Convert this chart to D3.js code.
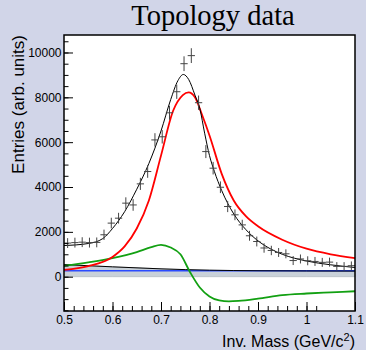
<!DOCTYPE html>
<html>
<head>
<meta charset="utf-8">
<script src="https://cdn.jsdelivr.net/npm/d3@7"></script>
<style>
  html, body { margin: 0; padding: 0; background: #d1d5e8; }
  svg { display: block; }
  .tick text { font-family: "Liberation Sans", Arial, sans-serif; font-size: 12px; fill: #000; }
</style>
</head>
<body>
<script>
// measured data (bin centres, width 0.015)
const binCenters = [0.5075, 0.5225, 0.5375, 0.5525, 0.5675, 0.5825, 0.5975, 0.6125, 0.6275, 0.6425,
                    0.6575, 0.6725, 0.6875, 0.7025, 0.7175, 0.7325, 0.7475, 0.7625, 0.7775, 0.7925,
                    0.8075, 0.8225, 0.8375, 0.8525, 0.8675, 0.8825, 0.8975, 0.9125, 0.9275, 0.9425,
                    0.9575, 0.9725, 0.9875, 1.0025, 1.0175, 1.0325, 1.0475, 1.0625, 1.0775, 1.0925];
const entries = [1500, 1520, 1540, 1520, 1530, 1870, 2390, 2610, 3280, 3200,
                 4140, 4690, 6100, 6240, 7310, 8250, 9500, 9860, 7760, 5580,
                 4840, 3990, 3130, 2760, 2310, 1825, 1570, 1280, 1170, 1080,
                 1020, 720, 790, 710, 680, 640, 650, 460, 460, 490];
const entryErrors = [220, 220, 220, 220, 220, 230, 240, 240, 260, 260,
                     270, 280, 300, 300, 310, 320, 330, 330, 320, 290,
                     280, 260, 250, 240, 230, 220, 220, 210, 210, 200,
                     200, 200, 200, 200, 200, 200, 200, 190, 190, 190];
const binHalfWidth = 0.0075;

// fit curves
const totalX = [0.5, 0.55, 0.58, 0.6, 0.625, 0.65, 0.675, 0.7, 0.72, 0.735, 0.746, 0.757, 0.77, 0.78,
                0.79, 0.8, 0.81, 0.825, 0.85, 0.875, 0.9, 0.925, 0.95, 1.0, 1.05, 1.1];
const totalY = [1390, 1480, 1700, 2150, 2900, 3900, 5050, 6500, 7900, 8750, 9020, 8800, 8100, 7500,
                6400, 5400, 4700, 3850, 2800, 2100, 1600, 1250, 1000, 700, 530, 410];

const signalX = [0.5, 0.55, 0.6, 0.625, 0.65, 0.675, 0.7, 0.725, 0.745, 0.757, 0.77, 0.785, 0.8,
                 0.825, 0.85, 0.875, 0.9, 0.95, 1.0, 1.05, 1.1];
const signalY = [300, 470, 880, 1350, 2150, 3400, 5400, 7400, 8100, 8220, 8000, 7200, 6300,
                 4600, 3400, 2700, 2250, 1650, 1250, 1000, 830];

const interfX = [0.5, 0.55, 0.6, 0.65, 0.68, 0.7, 0.72, 0.74, 0.76, 0.78, 0.8, 0.82, 0.84, 0.86,
                 0.9, 0.95, 1.0, 1.05, 1.1];
const interfY = [480, 640, 830, 1100, 1320, 1420, 1300, 1000, 200, -480, -880, -1060, -1100, -1080,
                 -980, -820, -750, -700, -650];

const bkgX = [0.5, 0.6, 0.7, 0.8, 0.9, 1.0, 1.1];
const bkgY = [540, 440, 350, 290, 265, 255, 250];

const flatX = [0.5, 1.1];
const flatY = [265, 265];

const xTicks = [0.5, 0.6, 0.7, 0.8, 0.9, 1.0, 1.1];
const yTicks = [0, 2000, 4000, 6000, 8000, 10000];

let margin = null, width = null, height = null;
let svg = null, plot = null;
let x = null, y = null;

setupCanvasSize();
appendSvg("body");
setupScales();
drawChart();

function setupCanvasSize() {
  margin = {top: 35, left: 64, bottom: 39, right: 11};
  width = 366 - margin.left - margin.right;
  height = 350 - margin.top - margin.bottom;
}

function appendSvg(domElement) {
  svg = d3.select(domElement).append("svg")
    .attr("width", 366)
    .attr("height", 350);
  plot = svg.append("g")
    .attr("transform", `translate(${margin.left}, ${margin.top})`);
}

function setupScales() {
  x = d3.scaleLinear().domain([0.5, 1.1]).range([0, width]);
  y = d3.scaleLinear().domain([-1530, 10780]).range([height, 0]);
}

function drawChart() {
  plot.append("rect")
    .attr("width", width).attr("height", height)
    .attr("fill", "#fff");

  appendBackgroundBand();
  appendCurve(flatX, flatY, "#2b4bff", 1.6);
  appendCurve(bkgX, bkgY, "#000", 1);
  appendCurve(interfX, interfY, "#12a012", 1.8);
  appendCurve(signalX, signalY, "#ff0000", 1.8);
  appendCurve(totalX, totalY, "#000", 1);
  appendPoints();
  appendAxes();
  appendTexts();

  plot.append("rect")
    .attr("width", width).attr("height", height)
    .attr("fill", "none").attr("stroke", "#000").attr("stroke-width", 1.5);
}

function appendBackgroundBand() {
  const area = d3.area()
    .x((d, i) => x(bkgX[i]))
    .y0(y(0))
    .y1((d, i) => y(bkgY[i]))
    .curve(d3.curveMonotoneX);
  plot.append("path")
    .datum(bkgY)
    .attr("d", area)
    .attr("fill", "#c9d1d9")
    .attr("stroke", "#a9b1b9")
    .attr("stroke-width", 0.6);
}

function appendCurve(xs, ys, color, w) {
  const line = d3.line()
    .x((d, i) => x(xs[i]))
    .y(d => y(d))
    .curve(d3.curveMonotoneX);
  plot.append("path")
    .datum(ys)
    .attr("d", line)
    .attr("fill", "none")
    .attr("stroke", color)
    .attr("stroke-width", w);
}

function appendPoints() {
  const g = plot.append("g").attr("stroke", "#444").attr("stroke-width", 1);
  const pts = g.selectAll("g.pt").data(entries).enter().append("g").attr("class", "pt");
  pts.append("line")
    .attr("x1", (d, i) => x(binCenters[i] - binHalfWidth))
    .attr("x2", (d, i) => x(binCenters[i] + binHalfWidth))
    .attr("y1", d => y(d)).attr("y2", d => y(d));
  pts.append("line")
    .attr("x1", (d, i) => x(binCenters[i])).attr("x2", (d, i) => x(binCenters[i]))
    .attr("y1", (d, i) => y(d - entryErrors[i]))
    .attr("y2", (d, i) => y(d + entryErrors[i]));
}

function appendAxes() {
  // minor ticks
  plot.append("g")
    .attr("transform", `translate(0, ${height})`)
    .call(d3.axisBottom(x).tickValues(d3.range(26).map(i => 0.52 + i * 0.02)).tickSize(-5).tickFormat(""))
    .call(g => g.select(".domain").remove())
    .selectAll("line").attr("stroke", "#000");
  plot.append("g")
    .call(d3.axisLeft(y).tickValues(d3.range(25).map(i => -1500 + i * 500)).tickSize(-4.5).tickFormat(""))
    .call(g => g.select(".domain").remove())
    .selectAll("line").attr("stroke", "#000");

  // major ticks
  plot.append("g")
    .attr("transform", `translate(0, ${height})`)
    .call(d3.axisBottom(x).tickValues(xTicks).tickSize(-9).tickPadding(4).tickFormat(d3.format("~g")))
    .call(g => g.select(".domain").remove())
    .selectAll("line").attr("stroke", "#000");
  plot.append("g")
    .call(d3.axisLeft(y).tickValues(yTicks).tickSize(-9).tickPadding(2.5).tickFormat(d3.format("d")))
    .call(g => g.select(".domain").remove())
    .selectAll("line").attr("stroke", "#000");
}

function appendTexts() {
  svg.append("text")
    .attr("x", 213).attr("y", 25)
    .attr("text-anchor", "middle")
    .attr("font-family", "'Liberation Serif', serif")
    .attr("font-size", 28.5)
    .text("Topology data");

  svg.append("text")
    .attr("transform", "translate(24, 35) rotate(-90)")
    .attr("text-anchor", "end")
    .attr("font-family", "'Liberation Sans', Arial, sans-serif")
    .attr("font-size", 17)
    .text("Entries (arb. units)");

  const xl = svg.append("text")
    .attr("x", 355).attr("y", 346.5)
    .attr("text-anchor", "end")
    .attr("font-family", "'Liberation Sans', Arial, sans-serif")
    .attr("font-size", 16);
  xl.append("tspan").text("Inv. Mass (GeV/c");
  xl.append("tspan").attr("font-size", 11).attr("dy", -6).text("2");
  xl.append("tspan").attr("dy", 6).text(")");
}
</script>
</body>
</html>
